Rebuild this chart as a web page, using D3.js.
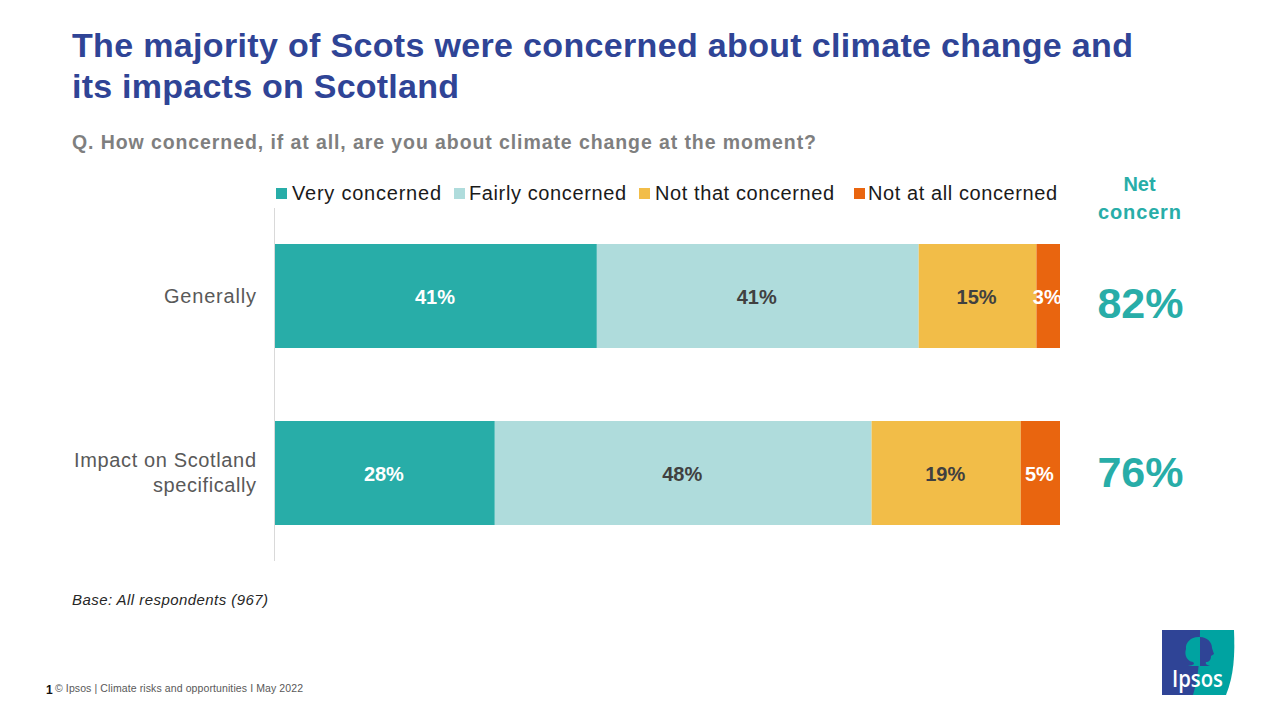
<!DOCTYPE html>
<html>
<head>
<meta charset="utf-8">
<script src="https://cdn.jsdelivr.net/npm/d3@7"></script>
<style>
  html, body { margin: 0; padding: 0; background: #fff; }
  svg { display: block; }
  text { font-family: "Liberation Sans", Arial, sans-serif; }
</style>
</head>
<body>
<div id="chart"></div>
<script>
const categories = ["Generally", "Impact on Scotland specifically"];
const seriesNames = ["Very concerned", "Fairly concerned", "Not that concerned", "Not at all concerned"];
const veryConcerned = [41, 28];
const fairlyConcerned = [41, 48];
const notThatConcerned = [15, 19];
const notAtAllConcerned = [3, 5];
const netConcern = [82, 76];
const seriesColors = ["#28ADA8", "#AFDCDC", "#F2BD48", "#E9650F"];
const labelColors = ["#ffffff", "#404040", "#404040", "#ffffff"];

const width = 1280;
const height = 720;
const blue = "#2F4496";
const teal = "#28ADA8";

const svg = d3.select("#chart").append("svg")
    .attr("width", width)
    .attr("height", height);

// titles
const title = svg.append("g")
    .attr("fill", blue)
    .style("font-size", "34px")
    .style("font-weight", "bold");
title.append("text").attr("x", 72).attr("y", 57).attr("textLength", 1061)
    .text("The majority of Scots were concerned about climate change and");
title.append("text").attr("x", 72).attr("y", 98).attr("textLength", 387)
    .text("its impacts on Scotland");

svg.append("text")
    .attr("x", 72).attr("y", 149)
    .attr("fill", "#7F7F7F")
    .attr("textLength", 744)
    .style("font-size", "19.5px")
    .style("font-weight", "bold")
    .text("Q. How concerned, if at all, are you about climate change at the moment?");

// scales
const x = d3.scaleLinear().domain([0, 100]).range([275, 1060]);
const y = d3.scaleBand().domain(categories).range([208, 561]).paddingInner(0.4124).paddingOuter(0.2034);

const rows = categories.map((c, i) => ({
    category: c,
    values: [veryConcerned[i], fairlyConcerned[i], notThatConcerned[i], notAtAllConcerned[i]]
}));
const stack = d3.stack().keys([0, 1, 2, 3]).value((d, k) => d.values[k]);
const layers = stack(rows);

// bars
const layerGroups = svg.selectAll("g.layer").data(layers).join("g").attr("class", "layer");
layerGroups.selectAll("rect")
    .data(d => d)
    .join("rect")
    .attr("x", d => x(d[0]))
    .attr("y", d => y(d.data.category))
    .attr("width", d => x(d[1]) - x(d[0]))
    .attr("height", y.bandwidth())
    .attr("fill", (d, i, n) => seriesColors[d3.select(n[i].parentNode).datum().key]);

layerGroups.selectAll("text")
    .data(d => d)
    .join("text")
    .attr("x", d => (x(d[0]) + x(d[1])) / 2 - 1)
    .attr("y", d => y(d.data.category) + y.bandwidth() / 2 + 8)
    .attr("text-anchor", "middle")
    .attr("fill", (d, i, n) => labelColors[d3.select(n[i].parentNode).datum().key])
    .style("font-size", "20px")
    .style("font-weight", "bold")
    .text((d, i, n) => d.data.values[d3.select(n[i].parentNode).datum().key] + "%");

// category axis
svg.append("line")
    .attr("x1", 274.5).attr("x2", 274.5)
    .attr("y1", 208).attr("y2", 561)
    .attr("stroke", "#D9D9D9");

const categoryLines = [["Generally"], ["Impact on Scotland", "specifically"]];
const categoryLineWidths = [[92], [182, 103]];
const categoryNudge = [1, 1];
categories.forEach((c, i) => {
    const lines = categoryLines[i];
    const mid = y(c) + y.bandwidth() / 2;
    lines.forEach((line, j) => {
        svg.append("text")
            .attr("x", 256 - categoryLineWidths[i][j])
            .attr("y", mid + 6 + categoryNudge[i] + (j - (lines.length - 1) / 2) * 25)
            .attr("textLength", categoryLineWidths[i][j])
            .attr("fill", "#595959")
            .style("font-size", "20px")
            .text(line);
    });
});

// legend
const legendX = [276, 454, 639, 854];
const legendTextX = [292, 469, 655, 868];
const legendTextW = [149, 157, 179, 189];
seriesNames.forEach((name, i) => {
    svg.append("rect")
        .attr("x", legendX[i]).attr("y", 188)
        .attr("width", 11).attr("height", 11)
        .attr("fill", seriesColors[i]);
    svg.append("text")
        .attr("x", legendTextX[i]).attr("y", 200)
        .attr("textLength", legendTextW[i])
        .attr("fill", "#1a1a1a")
        .style("font-size", "20px")
        .text(name);
});

// net concern column
svg.append("text").attr("x", 1139.5).attr("y", 191)
    .attr("text-anchor", "middle").attr("fill", teal)
    .style("font-size", "20px").style("font-weight", "bold").text("Net");
svg.append("text").attr("x", 1098).attr("y", 219)
    .attr("textLength", 83).attr("fill", teal)
    .style("font-size", "20px").style("font-weight", "bold").text("concern");

const netY = [318, 487];
netConcern.forEach((v, i) => {
    svg.append("text")
        .attr("x", 1140.5).attr("y", netY[i])
        .attr("text-anchor", "middle").attr("fill", teal)
        .style("font-size", "43px").style("font-weight", "bold")
        .text(v + "%");
});

// base note
svg.append("text").attr("x", 72).attr("y", 605)
    .attr("textLength", 196)
    .attr("fill", "#262626")
    .style("font-size", "15px").style("font-style", "italic")
    .text("Base: All respondents (967)");

// footer
svg.append("text").attr("x", 46).attr("y", 694)
    .attr("fill", "#111")
    .style("font-size", "12px").style("font-weight", "bold").text("1");
svg.append("text").attr("x", 55).attr("y", 692)
    .attr("textLength", 248)
    .attr("fill", "#595959")
    .style("font-size", "10.5px")
    .text("© Ipsos | Climate  risks and opportunities I May 2022");

// logo
const logo = svg.append("g").attr("transform", "translate(1162,630)");
logo.append("path")
    .attr("d", "M0,0 H72 C73,25 72,45 64,65 H0 Z")
    .attr("fill", "#00A3A1");
logo.append("path")
    .attr("d", "M0,0 H38 C38,25 37,45 31,65 H0 Z")
    .attr("fill", blue);
// tree half and face half of the emblem
logo.append("path")
    .attr("d", "M38,7 C30,6 23,12 24,19 C22,25 25,31 31,32 C33,34 32,35 26,36 L38,36 Z")
    .attr("fill", "#00A3A1");
logo.append("path")
    .attr("d", "M38,7 C45,7 50,12 50,18 L52,24 L49,26 C49,30 47,32 44,32 C43,34 45,35 48,36 H38 Z")
    .attr("fill", blue);
logo.append("text")
    .attr("x", 10).attr("y", 57)
    .attr("fill", "#fff")
    .attr("textLength", 51)
    .attr("lengthAdjust", "spacingAndGlyphs")
    .style("font-family", "'Open Sans', sans-serif")
    .style("font-size", "23px")
    .style("font-weight", "600")
    .text("Ipsos");
</script>
</body>
</html>
